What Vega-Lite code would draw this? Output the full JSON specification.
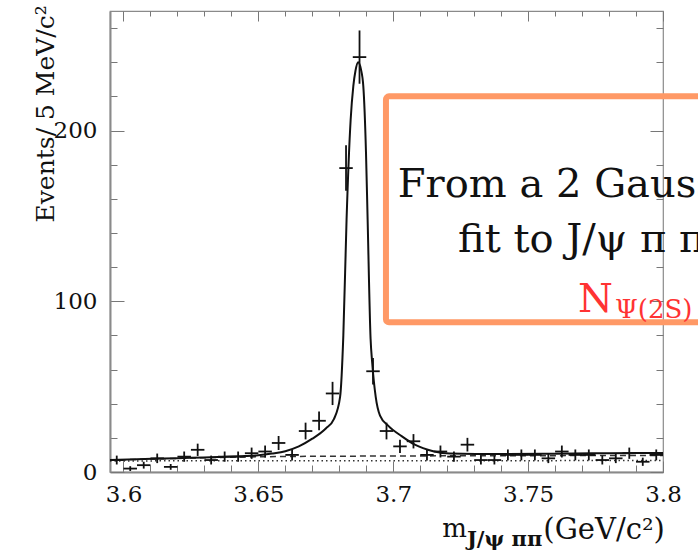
{
  "$schema": "https://vega.github.io/schema/vega-lite/v6.json",
  "width": 553,
  "height": 461,
  "autosize": {"type": "none"},
  "padding": {"left": 110, "top": 11, "right": 35, "bottom": 85},
  "background": "white",
  "config": {
    "view": {"stroke": "#8a8a8a", "strokeWidth": 1.2},
    "font": "DejaVu Serif",
    "axis": {"labelFont": "DejaVu Serif", "titleFont": "DejaVu Serif", "labelColor": "#111", "titleColor": "#111", "tickColor": "#777", "domain": false, "grid": false}
  },
  "datasets": {
    "hist": [
      {"m": 3.5975, "lo_edge": 3.595, "hi_edge": 3.6, "n": 7, "lo": 4.4, "hi": 9.6},
      {"m": 3.6025, "lo_edge": 3.6, "hi_edge": 3.605, "n": 2, "lo": 0.6, "hi": 3.4},
      {"m": 3.6075, "lo_edge": 3.605, "hi_edge": 3.61, "n": 4, "lo": 2, "hi": 6},
      {"m": 3.6125, "lo_edge": 3.61, "hi_edge": 3.615, "n": 8, "lo": 5.2, "hi": 10.8},
      {"m": 3.6175, "lo_edge": 3.615, "hi_edge": 3.62, "n": 3, "lo": 1.3, "hi": 4.7},
      {"m": 3.6225, "lo_edge": 3.62, "hi_edge": 3.625, "n": 9, "lo": 6, "hi": 12},
      {"m": 3.6275, "lo_edge": 3.625, "hi_edge": 3.63, "n": 13, "lo": 9.4, "hi": 16.6},
      {"m": 3.6325, "lo_edge": 3.63, "hi_edge": 3.635, "n": 7, "lo": 4.4, "hi": 9.6},
      {"m": 3.6375, "lo_edge": 3.635, "hi_edge": 3.64, "n": 9, "lo": 6, "hi": 12},
      {"m": 3.6425, "lo_edge": 3.64, "hi_edge": 3.645, "n": 9, "lo": 6, "hi": 12},
      {"m": 3.6475, "lo_edge": 3.645, "hi_edge": 3.65, "n": 11, "lo": 7.7, "hi": 14.3},
      {"m": 3.6525, "lo_edge": 3.65, "hi_edge": 3.655, "n": 12, "lo": 8.5, "hi": 15.5},
      {"m": 3.6575, "lo_edge": 3.655, "hi_edge": 3.66, "n": 17, "lo": 12.9, "hi": 21.1},
      {"m": 3.6625, "lo_edge": 3.66, "hi_edge": 3.665, "n": 10, "lo": 6.8, "hi": 13.2},
      {"m": 3.6675, "lo_edge": 3.665, "hi_edge": 3.67, "n": 24, "lo": 19.1, "hi": 28.9},
      {"m": 3.6725, "lo_edge": 3.67, "hi_edge": 3.675, "n": 30, "lo": 24.5, "hi": 35.5},
      {"m": 3.6775, "lo_edge": 3.675, "hi_edge": 3.68, "n": 46, "lo": 39.2, "hi": 52.8},
      {"m": 3.6825, "lo_edge": 3.68, "hi_edge": 3.685, "n": 178, "lo": 164.7, "hi": 191.3},
      {"m": 3.6875, "lo_edge": 3.685, "hi_edge": 3.69, "n": 243, "lo": 227.4, "hi": 258.6},
      {"m": 3.6925, "lo_edge": 3.69, "hi_edge": 3.695, "n": 59, "lo": 51.3, "hi": 66.7},
      {"m": 3.6975, "lo_edge": 3.695, "hi_edge": 3.7, "n": 24, "lo": 19.1, "hi": 28.9},
      {"m": 3.7025, "lo_edge": 3.7, "hi_edge": 3.705, "n": 15, "lo": 11.1, "hi": 18.9},
      {"m": 3.7075, "lo_edge": 3.705, "hi_edge": 3.71, "n": 18, "lo": 13.8, "hi": 22.2},
      {"m": 3.7125, "lo_edge": 3.71, "hi_edge": 3.715, "n": 10, "lo": 6.8, "hi": 13.2},
      {"m": 3.7175, "lo_edge": 3.715, "hi_edge": 3.72, "n": 12, "lo": 8.5, "hi": 15.5},
      {"m": 3.7225, "lo_edge": 3.72, "hi_edge": 3.725, "n": 9, "lo": 6, "hi": 12},
      {"m": 3.7275, "lo_edge": 3.725, "hi_edge": 3.73, "n": 16, "lo": 12, "hi": 20},
      {"m": 3.7325, "lo_edge": 3.73, "hi_edge": 3.735, "n": 7, "lo": 4.4, "hi": 9.6},
      {"m": 3.7375, "lo_edge": 3.735, "hi_edge": 3.74, "n": 7, "lo": 4.4, "hi": 9.6},
      {"m": 3.7425, "lo_edge": 3.74, "hi_edge": 3.745, "n": 10, "lo": 6.8, "hi": 13.2},
      {"m": 3.7475, "lo_edge": 3.745, "hi_edge": 3.75, "n": 10, "lo": 6.8, "hi": 13.2},
      {"m": 3.7525, "lo_edge": 3.75, "hi_edge": 3.755, "n": 10, "lo": 6.8, "hi": 13.2},
      {"m": 3.7575, "lo_edge": 3.755, "hi_edge": 3.76, "n": 8, "lo": 5.2, "hi": 10.8},
      {"m": 3.7625, "lo_edge": 3.76, "hi_edge": 3.765, "n": 12, "lo": 8.5, "hi": 15.5},
      {"m": 3.7675, "lo_edge": 3.765, "hi_edge": 3.77, "n": 10, "lo": 6.8, "hi": 13.2},
      {"m": 3.7725, "lo_edge": 3.77, "hi_edge": 3.775, "n": 10, "lo": 6.8, "hi": 13.2},
      {"m": 3.7775, "lo_edge": 3.775, "hi_edge": 3.78, "n": 7, "lo": 4.4, "hi": 9.6},
      {"m": 3.7825, "lo_edge": 3.78, "hi_edge": 3.785, "n": 8, "lo": 5.2, "hi": 10.8},
      {"m": 3.7875, "lo_edge": 3.785, "hi_edge": 3.79, "n": 11, "lo": 7.7, "hi": 14.3},
      {"m": 3.7925, "lo_edge": 3.79, "hi_edge": 3.795, "n": 6, "lo": 3.6, "hi": 8.4},
      {"m": 3.7975, "lo_edge": 3.795, "hi_edge": 3.8, "n": 10, "lo": 6.8, "hi": 13.2}
    ],
    "fit": [
      {"m": 3.595, "v": 7.0}, {"m": 3.605, "v": 7.4}, {"m": 3.615, "v": 7.9}, {"m": 3.625, "v": 8.3},
      {"m": 3.635, "v": 8.8}, {"m": 3.645, "v": 9.3}, {"m": 3.65, "v": 9.8}, {"m": 3.655, "v": 10.8},
      {"m": 3.66, "v": 12.2}, {"m": 3.665, "v": 15}, {"m": 3.67, "v": 19.5}, {"m": 3.675, "v": 25.5},
      {"m": 3.678, "v": 31}, {"m": 3.6803, "v": 44}, {"m": 3.6815, "v": 80}, {"m": 3.6827, "v": 148},
      {"m": 3.6842, "v": 206}, {"m": 3.6852, "v": 226}, {"m": 3.686, "v": 235}, {"m": 3.687, "v": 240},
      {"m": 3.688, "v": 236}, {"m": 3.6889, "v": 226}, {"m": 3.6899, "v": 187}, {"m": 3.6905, "v": 148},
      {"m": 3.6916, "v": 78}, {"m": 3.6922, "v": 64}, {"m": 3.6935, "v": 44}, {"m": 3.6951, "v": 33},
      {"m": 3.6982, "v": 27}, {"m": 3.7031, "v": 21}, {"m": 3.708, "v": 16}, {"m": 3.7148, "v": 12.2},
      {"m": 3.721, "v": 10.8}, {"m": 3.74, "v": 10.5}, {"m": 3.76, "v": 10.7}, {"m": 3.78, "v": 11},
      {"m": 3.8, "v": 11.2}
    ],
    "bkgdash": [
      {"m": 3.595, "v": 7.0}, {"m": 3.62, "v": 8.0}, {"m": 3.64, "v": 8.7}, {"m": 3.66, "v": 9.1},
      {"m": 3.7, "v": 9.4}, {"m": 3.8, "v": 9.7}
    ],
    "bkgdot": [
      {"m": 3.595, "v": 6.5}, {"m": 3.8, "v": 6.7}
    ]
  },
  "layer": [
    {
      "data": {"name": "bkgdot"},
      "mark": {"type": "line", "stroke": "#333", "strokeWidth": 1.5, "strokeDash": [1.5, 3]},
      "encoding": {
        "x": {"field": "m", "type": "quantitative", "scale": {"domain": [3.595, 3.8], "nice": false, "zero": false},
          "axis": {"orient": "bottom", "values": [3.6,3.61,3.62,3.63,3.64,3.65,3.66,3.67,3.68,3.69,3.7,3.71,3.72,3.73,3.74,3.75,3.76,3.77,3.78,3.79,3.8],
            "format": ".2~f", "labelExpr": "abs(datum.value*20-round(datum.value*20))<0.001 ? datum.label : ''",
            "tickSize": {"condition": {"test": "abs(datum.value*20-round(datum.value*20))<0.001", "value": -11}, "value": -7},
            "labelFontSize": 23, "labelPadding": 22, "labelFlush": false, "labelOverlap": false, "title": null,
            "domain": true, "domainColor": "#8a8a8a", "domainWidth": 2}},
        "y": {"field": "v", "type": "quantitative", "scale": {"domain": [0, 270], "nice": false, "zero": false},
          "axis": {"orient": "left", "values": [0,20,40,60,80,100,120,140,160,180,200,220,240,260],
            "labelExpr": "datum.value % 100 === 0 ? datum.label : ''",
            "tickSize": {"condition": {"test": "datum.value % 100 === 0", "value": -14}, "value": -7},
            "labelFontSize": 23, "labelPadding": 27, "labelOverlap": false,
            "domain": true, "domainColor": "#8a8a8a", "domainWidth": 2,
            "title": "Events/ 5 MeV/c²", "titleFontSize": 25, "titleFontWeight": "normal",
            "titleAngle": -90, "titleAlign": "left", "titleBaseline": "alphabetic", "titleX": -57, "titleY": 211}}
      }
    },
    {
      "data": {"name": "bkgdash"},
      "mark": {"type": "line", "stroke": "#333", "strokeWidth": 1.5, "strokeDash": [6, 4]},
      "encoding": {
        "x": {"field": "m", "type": "quantitative", "scale": {"domain": [3.595, 3.8], "nice": false, "zero": false},
          "axis": {"orient": "top", "values": [3.6,3.61,3.62,3.63,3.64,3.65,3.66,3.67,3.68,3.69,3.7,3.71,3.72,3.73,3.74,3.75,3.76,3.77,3.78,3.79,3.8],
            "labels": false, "title": null,
            "tickSize": {"condition": {"test": "abs(datum.value*20-round(datum.value*20))<0.001", "value": -10}, "value": -5}}},
        "y": {"field": "v", "type": "quantitative", "scale": {"domain": [0, 270], "nice": false, "zero": false},
          "axis": {"orient": "right", "values": [0,20,40,60,80,100,120,140,160,180,200,220,240,260],
            "labels": false, "title": null,
            "tickSize": {"condition": {"test": "datum.value % 100 === 0", "value": -13}, "value": -7}}}
      }
    },
    {
      "data": {"name": "fit"},
      "mark": {"type": "line", "stroke": "#111", "strokeWidth": 2, "interpolate": "monotone"},
      "encoding": {
        "x": {"field": "m", "type": "quantitative", "scale": {"domain": [3.595, 3.8], "nice": false, "zero": false}, "axis": null},
        "y": {"field": "v", "type": "quantitative", "scale": {"domain": [0, 270], "nice": false, "zero": false}, "axis": null}
      }
    },
    {
      "data": {"name": "hist"},
      "mark": {"type": "rule", "stroke": "#111", "strokeWidth": 1.8},
      "encoding": {
        "x": {"field": "m", "type": "quantitative", "scale": {"domain": [3.595, 3.8], "nice": false, "zero": false}, "axis": null},
        "y": {"field": "lo", "type": "quantitative", "scale": {"domain": [0, 270], "nice": false, "zero": false}, "axis": null},
        "y2": {"field": "hi"}
      }
    },
    {
      "data": {"name": "hist"},
      "mark": {"type": "rule", "stroke": "#111", "strokeWidth": 1.8},
      "encoding": {
        "x": {"field": "lo_edge", "type": "quantitative", "scale": {"domain": [3.595, 3.8], "nice": false, "zero": false}, "axis": null},
        "x2": {"field": "hi_edge"},
        "y": {"field": "n", "type": "quantitative", "scale": {"domain": [0, 270], "nice": false, "zero": false}, "axis": null}
      }
    },
    {
      "data": {"values": [{"x1": 3.6973, "x2": 3.95, "y1": 87.7, "y2": 220}]},
      "mark": {"type": "rect", "filled": false, "stroke": "#FF9966", "strokeWidth": 6, "cornerRadius": 3},
      "encoding": {
        "x": {"field": "x1", "type": "quantitative", "scale": {"domain": [3.595, 3.8], "nice": false, "zero": false}, "axis": null},
        "x2": {"field": "x2"},
        "y": {"field": "y1", "type": "quantitative", "scale": {"domain": [0, 270], "nice": false, "zero": false}, "axis": null},
        "y2": {"field": "y2"}
      }
    },
    {
      "data": {"values": [{"x": 3.7017, "y": 161, "label": "From a 2 Gaussian"}, {"x": 3.724, "y": 129, "label": "fit to J/ψ π π"}]},
      "mark": {"type": "text", "align": "left", "baseline": "alphabetic", "font": "DejaVu Serif", "fontSize": 40, "color": "#111"},
      "encoding": {
        "x": {"field": "x", "type": "quantitative", "scale": {"domain": [3.595, 3.8], "nice": false, "zero": false}, "axis": null},
        "y": {"field": "y", "type": "quantitative", "scale": {"domain": [0, 270], "nice": false, "zero": false}, "axis": null},
        "text": {"field": "label"}
      }
    },
    {
      "data": {"values": [{"x": 3.7685, "y": 94, "label": "N"}]},
      "mark": {"type": "text", "align": "left", "baseline": "alphabetic", "font": "DejaVu Serif", "fontSize": 40, "color": "#FF3333"},
      "encoding": {
        "x": {"field": "x", "type": "quantitative", "scale": {"domain": [3.595, 3.8], "nice": false, "zero": false}, "axis": null},
        "y": {"field": "y", "type": "quantitative", "scale": {"domain": [0, 270], "nice": false, "zero": false}, "axis": null},
        "text": {"field": "label"}
      }
    },
    {
      "data": {"values": [{"x": 3.7822, "y": 90.4, "label": "Ψ(2S)"}]},
      "mark": {"type": "text", "align": "left", "baseline": "alphabetic", "font": "DejaVu Serif", "fontSize": 26, "color": "#FF3333"},
      "encoding": {
        "x": {"field": "x", "type": "quantitative", "scale": {"domain": [3.595, 3.8], "nice": false, "zero": false}, "axis": null},
        "y": {"field": "y", "type": "quantitative", "scale": {"domain": [0, 270], "nice": false, "zero": false}, "axis": null},
        "text": {"field": "label"}
      }
    },
    {
      "data": {"values": [{"x": 3.7273, "y": -38.3, "label": "m"}]},
      "mark": {"type": "text", "align": "right", "baseline": "alphabetic", "font": "DejaVu Serif", "fontSize": 26, "color": "#111"},
      "encoding": {
        "x": {"field": "x", "type": "quantitative", "scale": {"domain": [3.595, 3.8], "nice": false, "zero": false}, "axis": null},
        "y": {"field": "y", "type": "quantitative", "scale": {"domain": [0, 270], "nice": false, "zero": false}, "axis": null},
        "text": {"field": "label"}
      }
    },
    {
      "data": {"values": [{"x": 3.7273, "y": -43.6, "label": "J/ψ ππ"}]},
      "mark": {"type": "text", "align": "left", "baseline": "alphabetic", "font": "DejaVu Serif", "fontSize": 21, "fontWeight": "bold", "color": "#111"},
      "encoding": {
        "x": {"field": "x", "type": "quantitative", "scale": {"domain": [3.595, 3.8], "nice": false, "zero": false}, "axis": null},
        "y": {"field": "y", "type": "quantitative", "scale": {"domain": [0, 270], "nice": false, "zero": false}, "axis": null},
        "text": {"field": "label"}
      }
    },
    {
      "data": {"values": [{"x": 3.8007, "y": -39, "label": "(GeV/c²)"}]},
      "mark": {"type": "text", "align": "right", "baseline": "alphabetic", "font": "DejaVu Serif", "fontSize": 29, "color": "#111"},
      "encoding": {
        "x": {"field": "x", "type": "quantitative", "scale": {"domain": [3.595, 3.8], "nice": false, "zero": false}, "axis": null},
        "y": {"field": "y", "type": "quantitative", "scale": {"domain": [0, 270], "nice": false, "zero": false}, "axis": null},
        "text": {"field": "label"}
      }
    }
  ],
  "resolve": {"axis": {"x": "independent", "y": "independent"}}
}
